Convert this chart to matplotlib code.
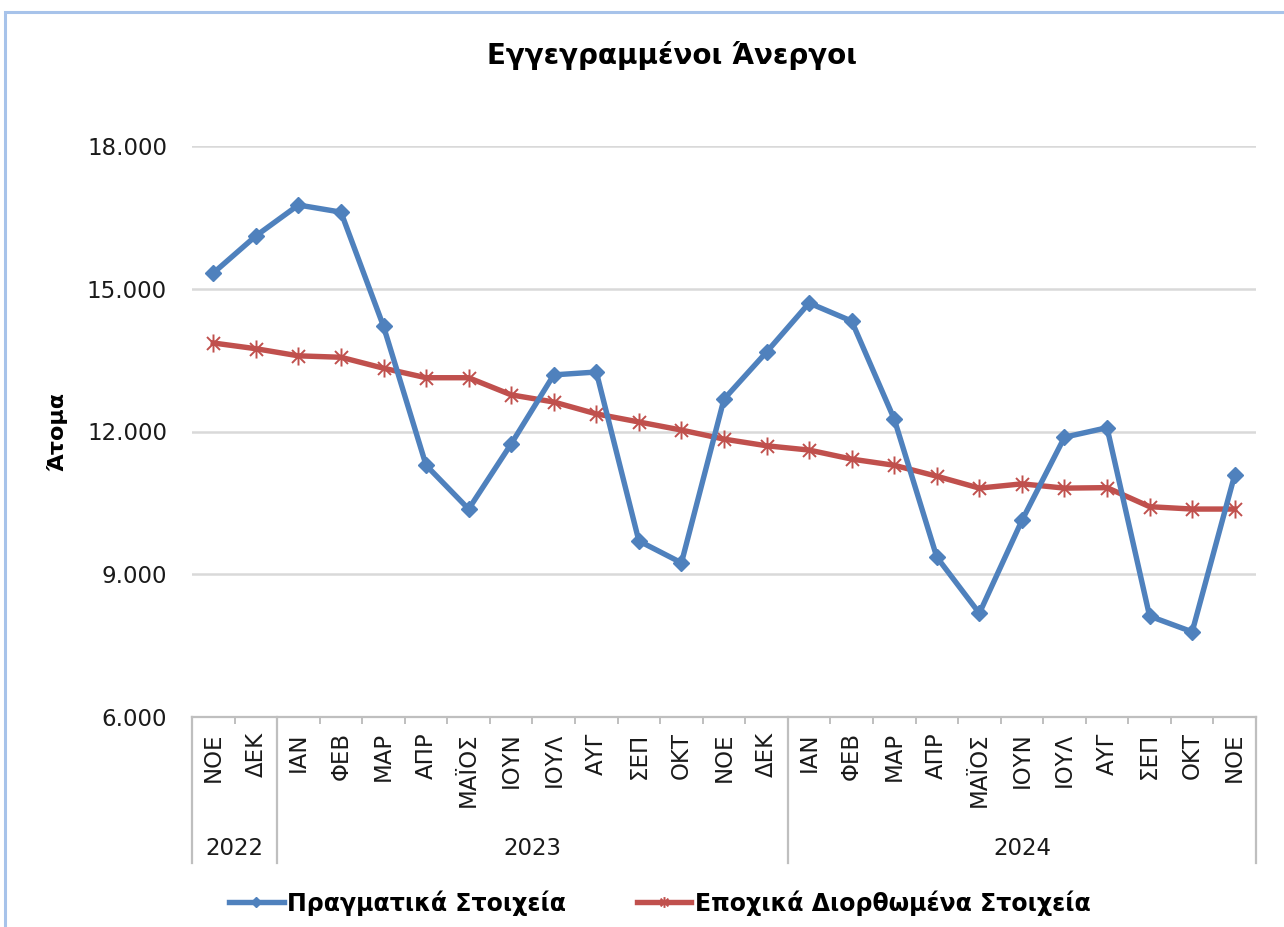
import matplotlib
matplotlib.use('Agg')
import matplotlib.pyplot as plt
import matplotlib.transforms as mtransforms
from matplotlib.path import Path
from matplotlib.patches import Rectangle
from matplotlib.ticker import FuncFormatter
import numpy as np

plt.rcParams['font.family'] = ['DejaVu Sans']

# ── data ────────────────────────────────────────────────────────────
months = ['ΝΟΕ', 'ΔΕΚ',
          'ΙΑΝ', 'ΦΕΒ', 'ΜΑΡ', 'ΑΠΡ', 'ΜΑΪΟΣ', 'ΙΟΥΝ', 'ΙΟΥΛ', 'ΑΥΓ',
          'ΣΕΠ', 'ΟΚΤ', 'ΝΟΕ', 'ΔΕΚ',
          'ΙΑΝ', 'ΦΕΒ', 'ΜΑΡ', 'ΑΠΡ', 'ΜΑΪΟΣ', 'ΙΟΥΝ', 'ΙΟΥΛ', 'ΑΥΓ',
          'ΣΕΠ', 'ΟΚΤ', 'ΝΟΕ']
years = ['2022', '2023', '2024']
year_counts = [2, 12, 11]

actual = [15330, 16110, 16760, 16610, 14210, 11290, 10370, 11740, 13190,
          13250, 9700, 9240, 12680, 13670, 14700, 14320, 12260, 9360,
          8180, 10130, 11880, 12080, 8120, 7790, 11090]
seasonal = [13860, 13740, 13590, 13560, 13330, 13130, 13130, 12770, 12620,
            12370, 12200, 12030, 11840, 11700, 11610, 11420, 11290, 11060,
            10810, 10900, 10810, 10820, 10420, 10370, 10370]

BLUE = '#4F81BD'
RED = '#C0504D'
GRID = '#D9D9D9'
AXIS = '#BFBFBF'

W, H = 1284, 927
fig = plt.figure(figsize=(W / 100, H / 100), dpi=100, facecolor='white')

# light blue chart frame (cut at right / bottom)
fig.patches.append(Rectangle((5 / W, -0.1), 1.2, 1 - 12 / H + 0.1,
                             transform=fig.transFigure, fill=False,
                             edgecolor='#A7C3EA', linewidth=2.2))

ax = fig.add_axes([192 / W, 1 - 717 / H, (1256 - 192) / W, (717 - 146) / H])

x = np.arange(len(months))
star = Path([(0, -1), (0, 1), (-0.72, -0.72), (0.72, 0.72), (-0.72, 0.72), (0.72, -0.72)],
            [Path.MOVETO, Path.LINETO, Path.MOVETO, Path.LINETO, Path.MOVETO, Path.LINETO])

ax.plot(x, actual, color=BLUE, linewidth=3.9, marker='D', markersize=8.5,
        label='Πραγματικά Στοιχεία', zorder=4, solid_joinstyle='round')
ax.plot(x, seasonal, color=RED, linewidth=3.9, marker=star, markersize=13,
        markeredgewidth=1.4, markeredgecolor=RED, label='Εποχικά Διορθωμένα Στοιχεία',
        zorder=3, solid_joinstyle='round')

ax.set_xlim(-0.5, len(months) - 0.5)
ax.set_ylim(6000, 18000)
ax.set_yticks(np.arange(6000, 18001, 3000))
ax.yaxis.set_major_formatter(FuncFormatter(lambda v, p: f'{int(v):,}'.replace(',', '.')))
ax.yaxis.grid(True, color=GRID, linewidth=1.8)
ax.set_axisbelow(True)
ax.tick_params(axis='y', length=0, pad=18, labelsize=16.5, labelcolor='#1a1a1a')

for s in ('top', 'right', 'left'):
    ax.spines[s].set_visible(False)
ax.spines['bottom'].set_color(AXIS)
ax.spines['bottom'].set_linewidth(1.6)

ax.set_xticks(x)
ax.set_xticklabels(months, rotation=90, va='top', ha='center', fontsize=16.5)
ax.set_xticks(np.arange(-0.5, len(months), 0.5), minor=True)
ax.tick_params(axis='x', which='major', length=0, pad=11, labelcolor='#1a1a1a')
ax.tick_params(axis='x', which='minor', length=5, width=1.4, color=AXIS, direction='out')

ax.set_ylabel('Άτομα', fontsize=16, fontweight='bold', labelpad=14)

# year level of the category axis
trans = mtransforms.blended_transform_factory(ax.transData, ax.transAxes)
edges = np.concatenate([[0], np.cumsum(year_counts)]) - 0.5
for e in edges:
    ax.plot([e, e], [0, -0.256], transform=trans, color=AXIS, linewidth=1.6,
            clip_on=False)
for i, yr in enumerate(years):
    ax.text((edges[i] + edges[i + 1]) / 2, -0.231, yr, transform=trans,
            ha='center', va='center', fontsize=16.5, color='#1a1a1a')

fig.text(0.523, 1 - 55 / H, 'Εγγεγραμμένοι Άνεργοι', ha='center', va='center',
         fontsize=20, fontweight='bold')

fig.legend(loc='center', bbox_to_anchor=(0.514, 1 - 903 / H), ncol=2, frameon=False,
           prop={'weight': 'bold', 'size': 17}, handlelength=2.3, handletextpad=0.15,
           columnspacing=3.0, markerscale=0.6)

fig.savefig('out.png', dpi=100, facecolor='white')
